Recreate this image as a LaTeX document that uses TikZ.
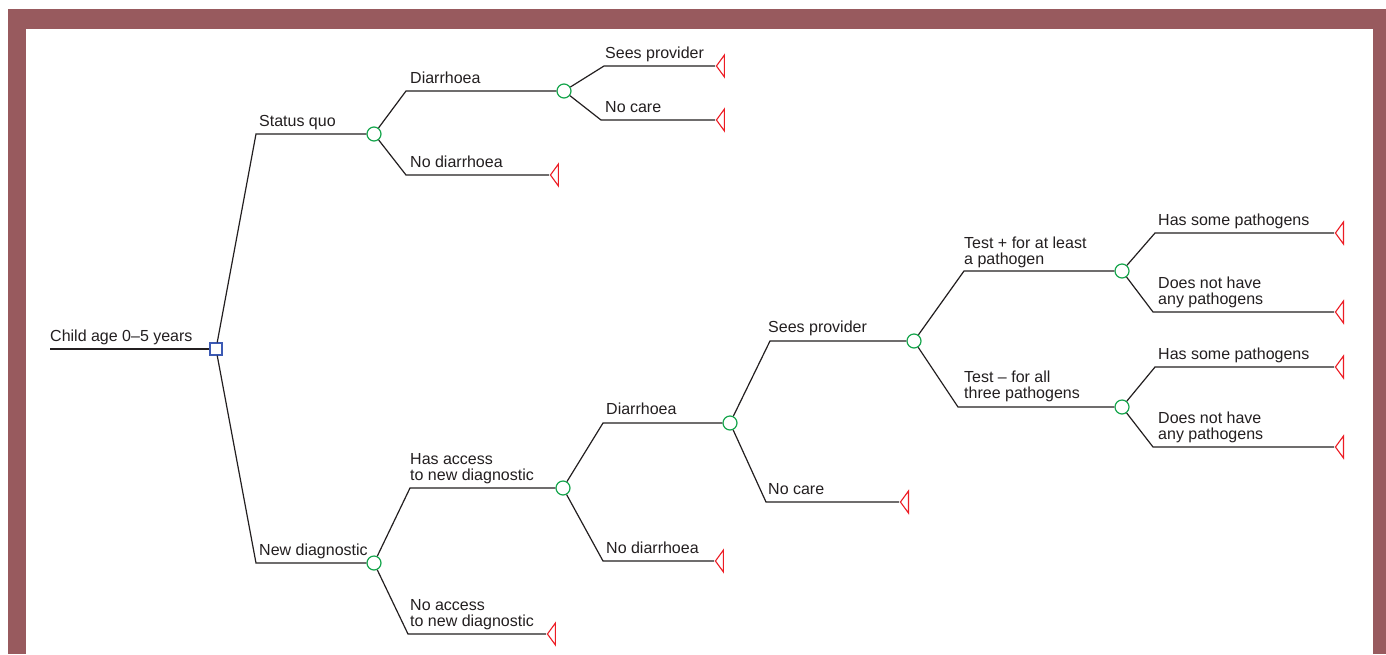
\documentclass[tikz,border=0pt]{standalone}
\usepackage{fontspec}
\setmainfont{Liberation Sans}
\usetikzlibrary{calc,shapes.geometric}
\definecolor{framered}{RGB}{152,90,94}
\definecolor{inkgray}{RGB}{35,31,32}
\definecolor{chancegreen}{RGB}{20,165,75}
\definecolor{termred}{RGB}{237,28,36}
\definecolor{decblue}{RGB}{60,90,180}
\tikzset{
	edge/.style={draw=inkgray, line width=1.2pt},
	decision/.style={rectangle, draw=decblue, fill=white, line width=1.2pt, minimum size=12pt, inner sep=0pt},
	chance/.style={circle, draw=chancegreen, fill=white, line width=1.2pt, minimum size=14pt, inner sep=0pt},
	term/.style={isosceles triangle, isosceles triangle stretches, shape border rotate=180, draw=termred, line width=1.1pt, minimum width=22pt, minimum height=8pt, inner sep=0pt, anchor=apex},
	lab/.style={anchor=base west, inner sep=0pt, text=inkgray, align=left, font=\fontsize{16}{16}\selectfont},
}
\def\branch(#1)(#2)(#3){\draw[edge] (#1) -- ($(#1 |- #2)+(#3,0)$) -- (#2);}

\begin{document}
\begin{tikzpicture}[x=1pt, y=-1pt]
			%%%%% FRAME %%%%%
			\useasboundingbox (0,0) rectangle (1386,654);
			\fill[framered] (8,9) rectangle (1386,654);
			\fill[white] (26,29) rectangle (1373,654);
			
			%%%%% NODES %%%%%
			\coordinate (root) at (50,349);
			\node[decision] (dec) at (216,349) {};
			
			\node[chance] (sq) at (374,134) {};
			\node[chance] (nd) at (374,563) {};
			
			\node[chance] (sq-dia) at (564,91) {};
			\node[term] (sq-nodia) at (549,175) {};
			\node[term] (sq-sees) at (715,66) {};
			\node[term] (sq-nocare) at (715,120) {};
			
			\node[chance] (nd-acc) at (563,488) {};
			\node[term] (nd-noacc) at (546,634) {};
			\node[chance] (acc-dia) at (730,423) {};
			\node[term] (acc-nodia) at (714,561) {};
			\node[chance] (dia-sees) at (914,341) {};
			\node[term] (dia-nocare) at (899,502) {};
			
			\node[chance] (sees-pos) at (1122,271) {};
			\node[chance] (sees-neg) at (1122,407) {};
			\node[term] (pos-some) at (1334,233) {};
			\node[term] (pos-none) at (1334,312) {};
			\node[term] (neg-some) at (1334,367) {};
			\node[term] (neg-none) at (1334,447) {};
			
			%%%%% BRANCHES %%%%%
			\draw[edge] (root) -- (dec);
			\branch(dec)(sq)(40)
			\branch(dec)(nd)(40)
			\branch(sq)(sq-dia)(32)
			\branch(sq)(sq-nodia)(32)
			\branch(sq-dia)(sq-sees)(40)
			\branch(sq-dia)(sq-nocare)(37)
			\branch(nd)(nd-acc)(36)
			\branch(nd)(nd-noacc)(34)
			\branch(nd-acc)(acc-dia)(40)
			\branch(nd-acc)(acc-nodia)(40)
			\branch(acc-dia)(dia-sees)(40)
			\branch(acc-dia)(dia-nocare)(36)
			\branch(dia-sees)(sees-pos)(50)
			\branch(dia-sees)(sees-neg)(44)
			\branch(sees-pos)(pos-some)(33)
			\branch(sees-pos)(pos-none)(31)
			\branch(sees-neg)(neg-some)(33)
			\branch(sees-neg)(neg-none)(31)
			
			%%%%% LABELS %%%%%
			\node[lab] (l-root) at (50,341) {Child age 0--5 years};
			\node[lab] (l-sq) at (259,126) {Status quo};
			\node[lab] (l-nd) at (259,555) {New diagnostic};
			\node[lab] (l-sq-dia) at (410,83) {Diarrhoea};
			\node[lab] (l-sq-nodia) at (410,167) {No diarrhoea};
			\node[lab] (l-sq-sees) at (605,58) {Sees provider};
			\node[lab] (l-sq-nocare) at (605,112) {No care};
			\node[lab] (l-nd-acc) at (410,480) {Has access\\to new diagnostic};
			\node[lab] (l-nd-noacc) at (410,626) {No access\\to new diagnostic};
			\node[lab] (l-acc-dia) at (606,414) {Diarrhoea};
			\node[lab] (l-acc-nodia) at (606,553) {No diarrhoea};
			\node[lab] (l-dia-sees) at (768,332) {Sees provider};
			\node[lab] (l-dia-nocare) at (768,494) {No care};
			\node[lab] (l-pos) at (964,264) {Test + for at least\\a pathogen};
			\node[lab] (l-neg) at (964,398) {Test -- for all\\three pathogens};
			\node[lab] (l-pos-some) at (1158,225) {Has some pathogens};
			\node[lab] (l-pos-none) at (1158,304) {Does not have\\any pathogens};
			\node[lab] (l-neg-some) at (1158,359) {Has some pathogens};
			\node[lab] (l-neg-none) at (1158,439) {Does not have\\any pathogens};
\end{tikzpicture}
\end{document}
